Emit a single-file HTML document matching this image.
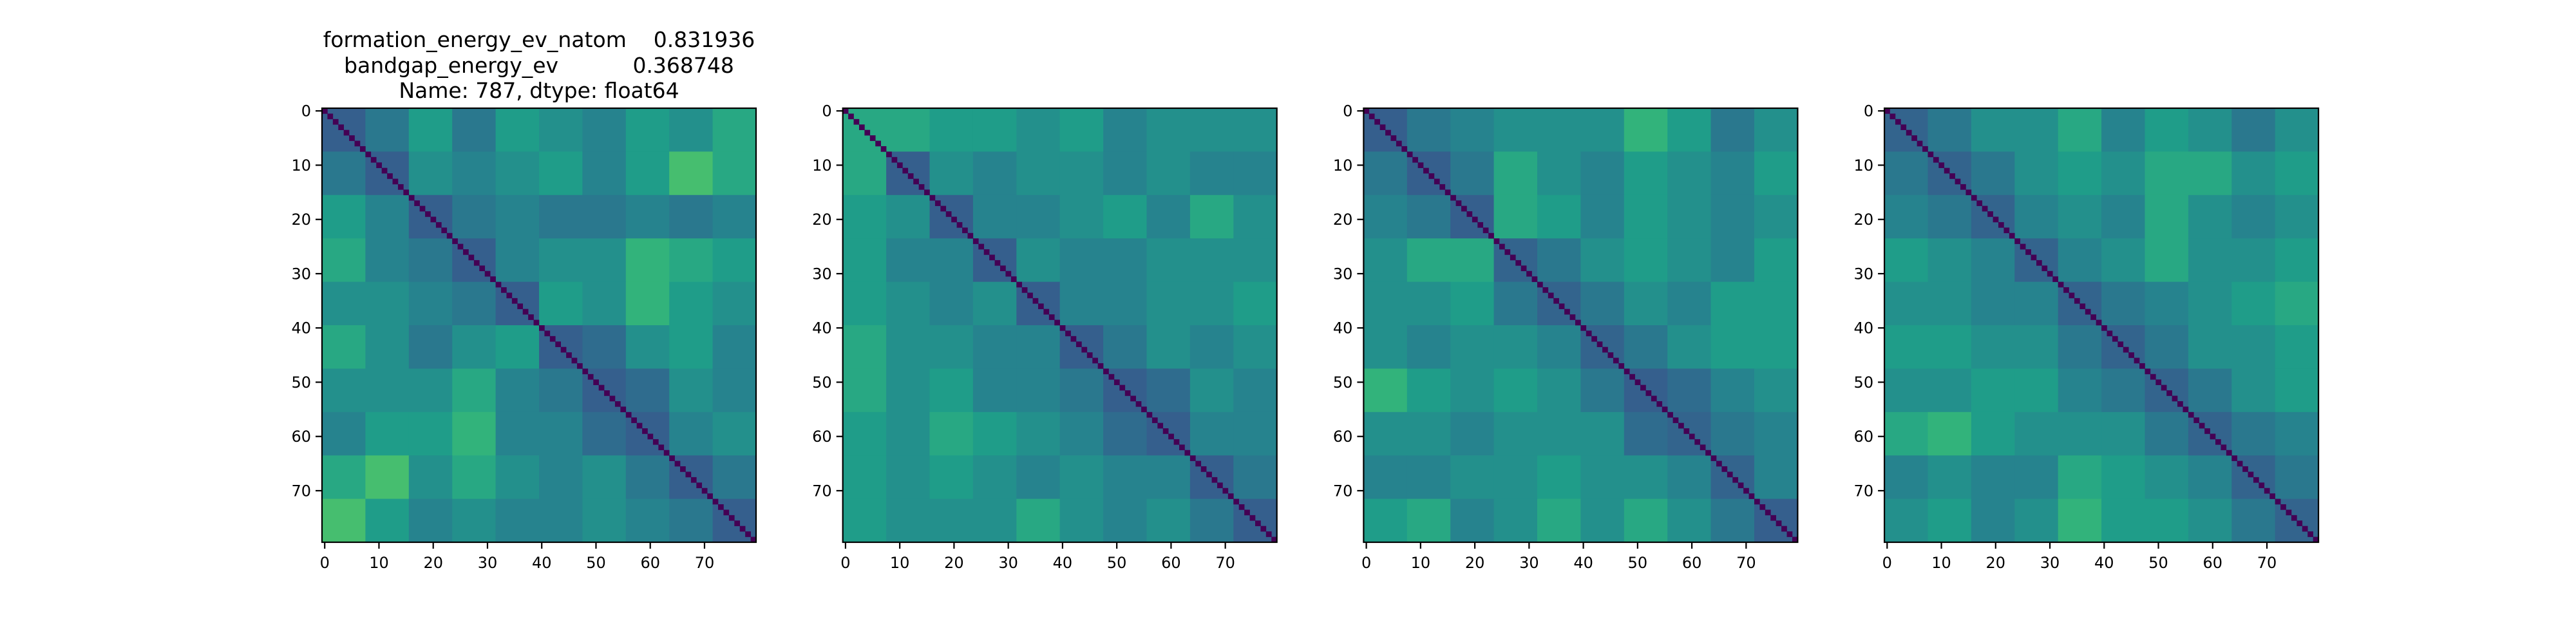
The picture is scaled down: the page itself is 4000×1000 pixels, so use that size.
<!DOCTYPE html>
<html><head><meta charset="utf-8"><style>
html,body{margin:0;padding:0;background:#fff;}
svg{display:block;}
text{font-family:"DejaVu Sans","Liberation Sans",sans-serif;fill:#000;}
</style></head><body>
<svg id="fig" width="4000" height="1000" viewBox="0 0 4000 1000" xmlns="http://www.w3.org/2000/svg">
<rect width="4000" height="1000" fill="#fff"/>
<g font-size="33" text-anchor="middle" style="white-space:pre">
<text x="837" y="73" xml:space="preserve">formation_energy_ev_natom    0.831936</text>
<text x="837" y="113" xml:space="preserve">bandgap_energy_ev           0.368748</text>
<text x="837" y="152">Name: 787, dtype: float64</text>
</g>
</svg>
<script>
const nCells = 80;
const ticks = [0,10,20,30,40,50,60,70];
const tickLabels = ["0","10","20","30","40","50","60","70"];
const diagValue = 0;
const panel1 = [
[0.30,0.40,0.55,0.40,0.55,0.50,0.45,0.55,0.50,0.60],
[0.40,0.30,0.50,0.45,0.50,0.55,0.45,0.55,0.70,0.60],
[0.55,0.45,0.30,0.40,0.45,0.40,0.40,0.45,0.40,0.45],
[0.60,0.45,0.40,0.30,0.45,0.50,0.50,0.65,0.60,0.55],
[0.50,0.50,0.45,0.40,0.30,0.55,0.50,0.65,0.55,0.50],
[0.60,0.50,0.40,0.50,0.55,0.30,0.35,0.50,0.55,0.45],
[0.50,0.50,0.50,0.60,0.45,0.40,0.30,0.35,0.50,0.45],
[0.45,0.55,0.55,0.65,0.45,0.45,0.35,0.30,0.45,0.50],
[0.60,0.70,0.50,0.60,0.50,0.45,0.50,0.40,0.30,0.40],
[0.70,0.55,0.45,0.50,0.45,0.45,0.50,0.45,0.40,0.30]];
const panel2 = [
[0.60,0.60,0.55,0.55,0.50,0.55,0.45,0.50,0.50,0.50],
[0.60,0.30,0.50,0.45,0.50,0.50,0.45,0.50,0.45,0.45],
[0.55,0.50,0.30,0.45,0.45,0.50,0.55,0.45,0.60,0.50],
[0.55,0.45,0.45,0.30,0.50,0.45,0.45,0.50,0.50,0.50],
[0.55,0.50,0.45,0.50,0.30,0.45,0.45,0.50,0.50,0.55],
[0.60,0.50,0.50,0.45,0.45,0.30,0.40,0.50,0.45,0.50],
[0.60,0.50,0.55,0.45,0.45,0.40,0.30,0.35,0.50,0.45],
[0.55,0.50,0.60,0.55,0.50,0.45,0.35,0.30,0.45,0.45],
[0.55,0.50,0.55,0.50,0.45,0.50,0.45,0.45,0.30,0.40],
[0.55,0.50,0.50,0.50,0.60,0.50,0.45,0.50,0.40,0.30]];
const panel3 = [
[0.30,0.40,0.45,0.50,0.50,0.50,0.65,0.55,0.40,0.50],
[0.40,0.30,0.40,0.60,0.50,0.45,0.55,0.50,0.45,0.55],
[0.45,0.40,0.30,0.60,0.55,0.45,0.55,0.50,0.45,0.50],
[0.50,0.60,0.60,0.32,0.40,0.50,0.55,0.50,0.45,0.55],
[0.50,0.50,0.55,0.40,0.32,0.40,0.50,0.45,0.55,0.55],
[0.50,0.45,0.50,0.50,0.45,0.32,0.40,0.50,0.55,0.55],
[0.65,0.55,0.50,0.55,0.50,0.40,0.30,0.35,0.45,0.50],
[0.50,0.50,0.45,0.50,0.50,0.50,0.35,0.32,0.40,0.45],
[0.45,0.45,0.50,0.50,0.55,0.50,0.50,0.45,0.32,0.45],
[0.55,0.60,0.45,0.50,0.60,0.50,0.60,0.50,0.40,0.30]];
const panel4 = [
[0.32,0.40,0.50,0.50,0.60,0.45,0.55,0.50,0.40,0.50],
[0.40,0.32,0.40,0.50,0.55,0.50,0.60,0.60,0.50,0.55],
[0.45,0.40,0.32,0.45,0.50,0.45,0.60,0.50,0.45,0.50],
[0.55,0.50,0.45,0.32,0.45,0.50,0.60,0.50,0.50,0.55],
[0.50,0.50,0.45,0.45,0.32,0.40,0.45,0.50,0.55,0.60],
[0.55,0.55,0.50,0.50,0.40,0.32,0.40,0.50,0.50,0.55],
[0.50,0.50,0.55,0.55,0.45,0.40,0.32,0.40,0.50,0.55],
[0.60,0.65,0.55,0.50,0.50,0.50,0.40,0.32,0.40,0.45],
[0.45,0.50,0.45,0.45,0.60,0.55,0.50,0.45,0.32,0.40],
[0.50,0.55,0.45,0.50,0.65,0.55,0.55,0.50,0.40,0.32]];
const panels = [panel1, panel2, panel3, panel4];

const NS = "http://www.w3.org/2000/svg";
const svg = document.getElementById('fig');
const axLefts = [500, 1308.7, 2117.4, 2926.1];
const axTop = 168, axSize = 674;
const stops = [[68,1,84],[72,40,120],[62,74,137],[49,104,142],[38,130,142],[31,158,137],[53,183,121],[109,205,89],[180,222,44],[253,231,37]];
function viridis(v){
  v = Math.max(0, Math.min(1, v));
  const p = v*(stops.length-1), i = Math.min(stops.length-2, Math.floor(p)), f = p-i;
  const c = stops[i].map((a,k)=>Math.round(a+(stops[i+1][k]-a)*f));
  return `rgb(${c[0]},${c[1]},${c[2]})`;
}
function mk(tag, attrs, parent){
  const e = document.createElementNS(NS, tag);
  for (const k in attrs) e.setAttribute(k, attrs[k]);
  parent.appendChild(e); return e;
}
panels.forEach((mat, pi) => {
  const left = axLefts[pi];
  const cs = axSize / nCells;
  const sx = c => left + c*cs;
  const sy = r => axTop + r*cs;
  const g = mk('g', {}, svg);
  
  
  const nb = mat.length, bs = nCells / nb;
  mat.forEach((row, r) => row.forEach((v, c) => {
    const rc = mk('rect', {x: sx(c*bs), y: sy(r*bs), width: bs*cs+0.6, height: bs*cs+0.6, fill: viridis(v)}, g);
    
    
  }));
  for (let i = 0; i < nCells; i++) {
    const d = mk('rect', {x: sx(i), y: sy(i), width: cs+0.3, height: cs+0.3, fill: viridis(diagValue)}, g);
    
    
  }
  const fr = mk('rect', {x: left, y: axTop, width: axSize, height: axSize, fill: 'none', stroke: '#000', 'stroke-width': 2.2}, g);
  
  
  ticks.forEach((t, k) => {
    const yy = sy(t + 0.5), xx = sx(t + 0.5);
    mk('line', {x1: left-10, x2: left, y1: yy, y2: yy, stroke: '#000', 'stroke-width': 2.2}, g);
    const yl = mk('text', {x: left-17, y: yy+8.5, 'font-size': 24, 'text-anchor': 'end'}, g);
    yl.textContent = tickLabels[k];
    
    
    mk('line', {x1: xx, x2: xx, y1: axTop+axSize, y2: axTop+axSize+10, stroke: '#000', 'stroke-width': 2.2}, g);
    const xl = mk('text', {x: xx, y: axTop+axSize+40, 'font-size': 24, 'text-anchor': 'middle'}, g);
    xl.textContent = tickLabels[k];
    
    
  });
});
</script>
</body></html>
